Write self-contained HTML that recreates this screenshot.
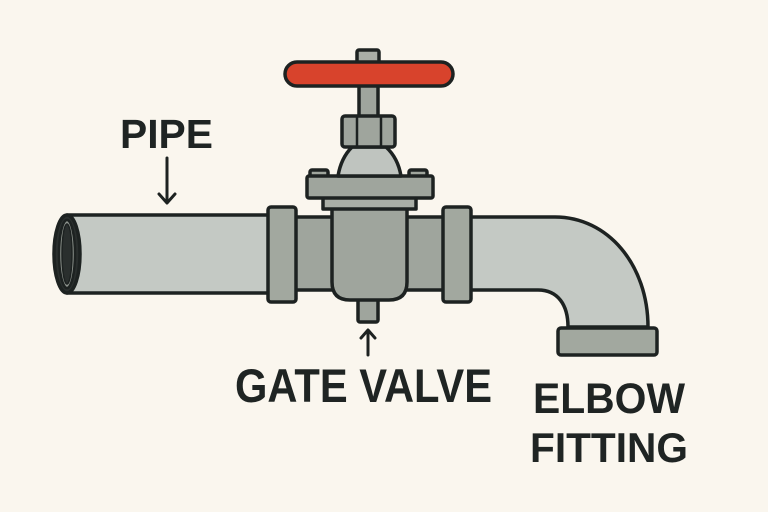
<!DOCTYPE html>
<html><head><meta charset="utf-8"><style>
html,body{margin:0;padding:0;background:#faf6ee;}
svg{display:block;}
text{font-family:"Liberation Sans",sans-serif;font-weight:bold;fill:#1f2423;}
</style></head><body>
<svg width="768" height="512" viewBox="0 0 768 512" xmlns="http://www.w3.org/2000/svg">
<rect width="768" height="512" fill="#faf6ee"/>
<g stroke="#1d2221" stroke-width="3.5" stroke-linejoin="round">
  <!-- left pipe -->
  <rect x="67" y="215" width="203" height="78" fill="#c4c9c4"/>
  <ellipse cx="67" cy="254" rx="13" ry="39" fill="#2a2f2e"/>
  <ellipse cx="67" cy="254" rx="8" ry="34" fill="#8f958f" stroke-width="2.5"/>
  <ellipse cx="67" cy="254" rx="5" ry="30" fill="#2a2f2e" stroke-width="1.5"/>
  <!-- short pipes -->
  <rect x="294" y="217" width="40" height="73" fill="#9fa59d"/>
  <rect x="405" y="217" width="40" height="73" fill="#9fa59d"/>
  <!-- elbow -->
  <path d="M470 217 L555 217 C608 217 648 265 648 327 L568 327 C568 305 558 290 538 290 L470 290 Z" fill="#c4c9c4"/>
  <rect x="558" y="328" width="99" height="27" rx="3" fill="#a2a89f"/>
  <!-- flanges -->
  <rect x="268" y="207" width="28" height="95" rx="3" fill="#a2a89f"/>
  <rect x="443" y="207" width="28" height="95" rx="3" fill="#a2a89f"/>
  <!-- bottom stem -->
  <rect x="358" y="295" width="20" height="27" rx="2" fill="#9fa59d"/>
  <!-- body -->
  <path d="M332 208 L407 208 L407 282 Q407 300 389 300 L350 300 Q332 300 332 282 Z" fill="#9fa59d"/>
  <!-- strip -->
  <rect x="323" y="197" width="93" height="12" fill="#a9aea6"/>
  <!-- bolts -->
  <rect x="310" y="170" width="18" height="8" rx="2" fill="#9fa59d"/>
  <rect x="409" y="170" width="18" height="8" rx="2" fill="#9fa59d"/>
  <!-- plate -->
  <rect x="307" y="176" width="126" height="22" rx="2" fill="#9fa59d"/>
  <!-- cone -->
  <path d="M352 147 L386 147 Q398 158 401 176 L338 176 Q341 158 352 147 Z" fill="#bfc4bf"/>
  <!-- upper stem -->
  <rect x="359" y="82" width="19" height="36" fill="#9fa59d"/>
  <!-- nut -->
  <rect x="342" y="116" width="53" height="31" rx="3" fill="#9fa59d"/>
  <line x1="357" y1="117" x2="357" y2="146" stroke-width="2.5"/>
  <line x1="381" y1="117" x2="381" y2="146" stroke-width="2.5"/>
  <!-- top stem -->
  <rect x="357" y="50" width="22" height="16" rx="2" fill="#a9aea6"/>
  <!-- handle -->
  <rect x="285" y="62" width="168" height="24" rx="12" fill="#d8432c"/>
</g>
<!-- arrows -->
<g stroke="#1d2221" stroke-width="3" fill="none" stroke-linecap="round" stroke-linejoin="round">
  <line x1="167" y1="158" x2="167" y2="202"/>
  <polyline points="159,194 167,203 175,194"/>
  <line x1="368" y1="331" x2="368" y2="355"/>
  <polyline points="361,338 368,330 375,338"/>
</g>
<!-- labels -->
<text x="120" y="148" font-size="41" textLength="93" lengthAdjust="spacingAndGlyphs">PIPE</text>
<text x="235" y="402" font-size="47" textLength="257" lengthAdjust="spacingAndGlyphs">GATE VALVE</text>
<text x="533" y="413" font-size="43" textLength="152" lengthAdjust="spacingAndGlyphs">ELBOW</text>
<text x="530" y="462" font-size="42" textLength="158" lengthAdjust="spacingAndGlyphs">FITTING</text>
</svg>
</body></html>
